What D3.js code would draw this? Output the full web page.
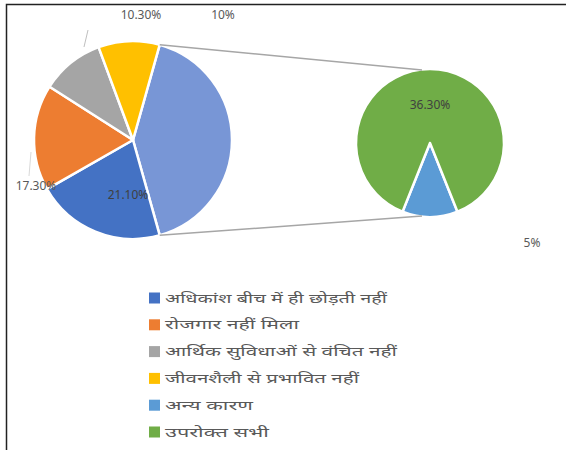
<!DOCTYPE html>
<html>
<head>
<meta charset="utf-8">
<script src="https://cdn.jsdelivr.net/npm/d3@7/dist/d3.min.js"></script>
<style>
html,body{margin:0;padding:0;background:#fff;}
svg{display:block;}
text{font-family:"Noto Sans","DejaVu Sans",sans-serif;}
</style>
</head>
<body>
<svg id="chart" width="566" height="450"></svg>
<script>
// ---- data ----
const categories = [
  "अधिकांश बीच में ही छोड़ती नहीं",
  "रोजगार नहीं मिला",
  "आर्थिक सुविधाओं से वंचित नहीं",
  "जीवनशैली से प्रभावित नहीं",
  "अन्य कारण",
  "उपरोक्त सभी"
];
const values = [21.1, 17.3, 10.3, 10, 5, 36.3];
const valueLabels = ["21.10%", "17.30%", "10.30%", "10%", "5%", "36.30%"];
const colors = ["#4472C4", "#ED7D31", "#A5A5A5", "#FFC000", "#5B9BD5", "#70AD47"];
const otherColor = "#7896D6";
const secondIdx = [4, 5]; // points moved to the second pie
const legendTextWidths = [222, 134, 232, 194, 88, 104];

const svg = d3.select("#chart");

// frame
svg.append("path").attr("d", "M6.5,450 L6.5,4.5 L566,4.5")
  .attr("fill", "none").attr("stroke", "#222").attr("stroke-width", 1.5);

// ---- main pie ----
const mainIdx = [0, 1, 2, 3];
const otherVal = d3.sum(secondIdx, i => values[i]);
const total = d3.sum(values);
const mainData = [{key: "other", v: otherVal, color: otherColor}]
  .concat(mainIdx.map(i => ({key: i, v: values[i], color: colors[i]})));
const otherAng = 2 * Math.PI * otherVal / total;
const mStart = Math.PI / 2 - otherAng / 2;
const mainPie = d3.pie().sort(null).value(d => d.v).startAngle(mStart).endAngle(mStart + 2 * Math.PI);
const mcx = 133, mcy = 140, mr = 99;
const mainArc = d3.arc().innerRadius(0).outerRadius(mr);
const mainArcs = mainPie(mainData);
const gMain = svg.append("g").attr("transform", `translate(${mcx},${mcy})`);
gMain.selectAll("path").data(mainArcs).join("path")
  .attr("d", mainArc)
  .attr("fill", d => d.data.color)
  .attr("stroke", "#fff").attr("stroke-width", 2.5).attr("stroke-linejoin", "round");

// ---- second pie ----
const secData = secondIdx.map(i => ({key: i, v: values[i], color: colors[i]}));
const blueAng = 2 * Math.PI * values[secondIdx[0]] / otherVal;
const sStart = Math.PI - blueAng / 2;
const secPie = d3.pie().sort(null).value(d => d.v).startAngle(sStart).endAngle(sStart + 2 * Math.PI);
const scx = 430, scy = 143, sr = 74;
const secArc = d3.arc().innerRadius(0).outerRadius(sr);
const secArcs = secPie(secData);
const gSec = svg.append("g").attr("transform", `translate(${scx},${scy})`);
gSec.selectAll("path").data(secArcs).join("path")
  .attr("d", secArc)
  .attr("fill", d => d.data.color)
  .attr("stroke", "#fff").attr("stroke-width", 2.5).attr("stroke-linejoin", "round");

// ---- connector lines ----
const oArc = mainArcs[0];
const pt = (a, r) => [Math.sin(a) * r, -Math.cos(a) * r];
const pTop = pt(oArc.startAngle, mr), pBot = pt(oArc.endAngle, mr);
svg.append("line")
  .attr("x1", mcx + pTop[0]).attr("y1", mcy + pTop[1])
  .attr("x2", scx - 8).attr("y2", scy - sr + 1)
  .attr("stroke", "#A6A6A6").attr("stroke-width", 1.5);
svg.append("line")
  .attr("x1", mcx + pBot[0]).attr("y1", mcy + pBot[1])
  .attr("x2", scx - 8).attr("y2", scy + sr - 1)
  .attr("stroke", "#A6A6A6").attr("stroke-width", 1.5);

// ---- data labels ----
const lblStyle = sel => sel.attr("font-size", 12).attr("fill", "#595959").attr("text-anchor", "middle");
svg.append("polyline").attr("points", "84,47 88,30").attr("fill", "none").attr("stroke", "#BFBFBF").attr("stroke-width", 1);
svg.append("polyline").attr("points", "31,152 29,176").attr("fill", "none").attr("stroke", "#D9D9D9").attr("stroke-width", 1);
svg.append("text").call(lblStyle).attr("x", 141).attr("y", 19).text(valueLabels[2]);
svg.append("text").call(lblStyle).attr("x", 223).attr("y", 19).text(valueLabels[3]);
svg.append("text").call(lblStyle).attr("x", 36).attr("y", 190).text(valueLabels[1]);
svg.append("text").call(lblStyle).attr("x", 128).attr("y", 199).attr("fill", "#404040").text(valueLabels[0]);
svg.append("text").call(lblStyle).attr("x", 430).attr("y", 109).attr("fill", "#404040").text(valueLabels[5]);
svg.append("text").call(lblStyle).attr("x", 532).attr("y", 247).text(valueLabels[4]);

// ---- legend ----
const legY = d3.scalePoint().domain(d3.range(categories.length)).range([298, 432]);
const leg = svg.append("g");
categories.forEach((c, i) => {
  leg.append("rect").attr("x", 149).attr("y", legY(i) - 5.5).attr("width", 11).attr("height", 11).attr("fill", colors[i]);
  leg.append("text").attr("x", 165).attr("y", legY(i) + 4.5).attr("font-size", 13).attr("fill", "#595959")
    .attr("textLength", legendTextWidths[i]).attr("lengthAdjust", "spacingAndGlyphs").text(c);
});
</script>
</body>
</html>
